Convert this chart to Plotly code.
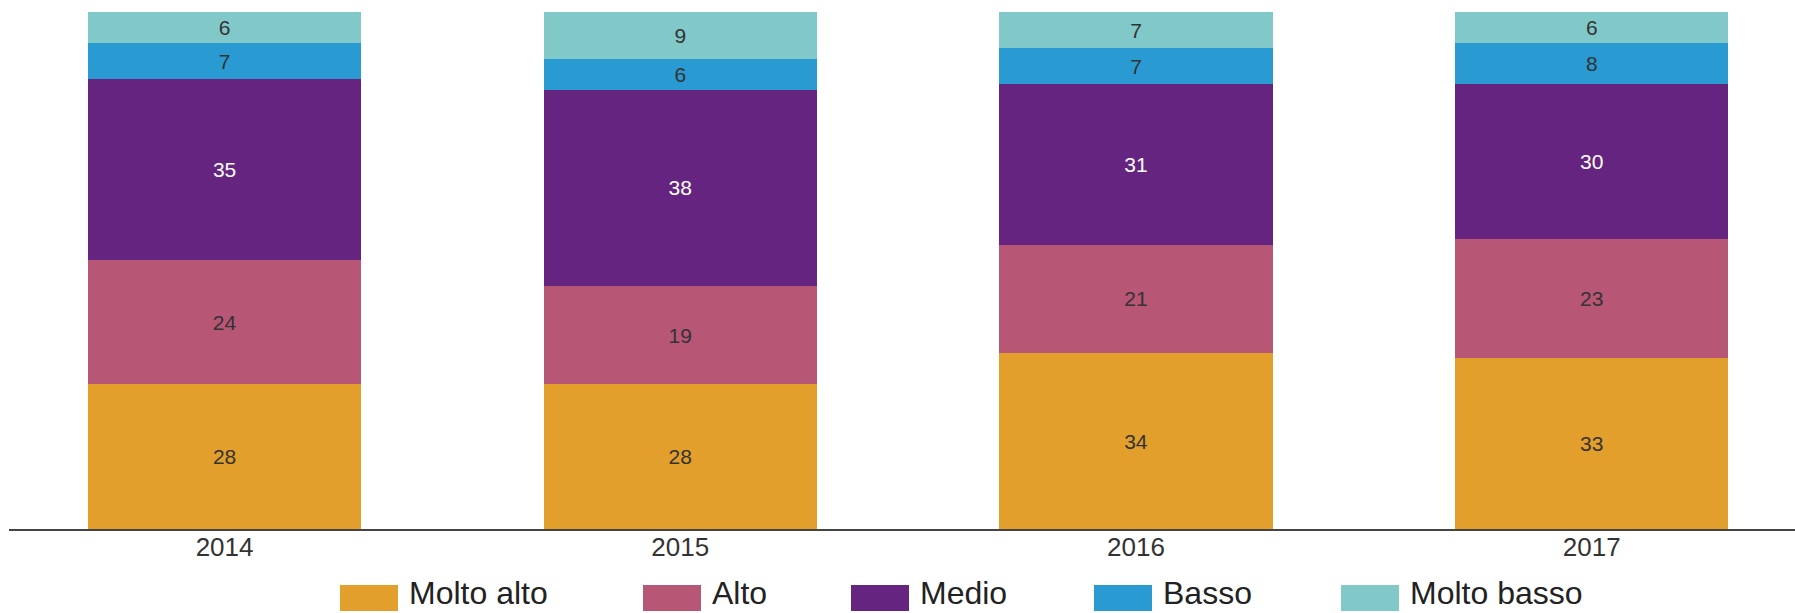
import plotly.graph_objects as go

# ---- data ----
years = ["2014", "2015", "2016", "2017"]
series = ["Molto alto", "Alto", "Medio", "Basso", "Molto basso"]
molto_alto = [28, 28, 34, 33]
alto = [24, 19, 21, 23]
medio = [35, 38, 31, 30]
basso = [7, 6, 7, 8]
molto_basso = [6, 9, 7, 6]
values = [molto_alto, alto, medio, basso, molto_basso]

colors = ["#E39F2B", "#B85676", "#65247F", "#2A9AD2", "#80C9C8"]
text_colors = ["#333333", "#333333", "#FFFFFF", "#333333", "#333333"]

W, H = 1795, 613
ML, MR, MT, MB = 9, 0, 12, 84
PW = W - ML - MR
PH = H - MT - MB

fig = go.Figure()
for name, vals, col, tcol in zip(series, values, colors, text_colors):
    fig.add_trace(go.Bar(
        x=years, y=vals, name=name,
        marker=dict(color=col, line=dict(width=0)),
        text=[str(v) for v in vals],
        textposition="inside", insidetextanchor="middle",
        textfont=dict(family="Arial, Liberation Sans, sans-serif", size=21, color=tcol),
        constraintext="none",
        hoverinfo="x+y+name",
        showlegend=False,
    ))

# ---- custom legend (large swatches) ----
def px_to_paper_x(px):
    return (px - ML) / PW

def px_to_paper_y(py):
    return (H - MB - py) / PH

legend_swatch_x = [340, 643, 851, 1094, 1341]
sw_w, sw_top, sw_bot = 58, 585, 611
shapes = []
annotations = []
for name, col, sx in zip(series, colors, legend_swatch_x):
    shapes.append(dict(
        type="rect", xref="paper", yref="paper",
        x0=px_to_paper_x(sx), x1=px_to_paper_x(sx + sw_w),
        y0=px_to_paper_y(sw_bot), y1=px_to_paper_y(sw_top),
        fillcolor=col, line=dict(width=0), layer="above",
    ))
    annotations.append(dict(
        text=name, xref="paper", yref="paper",
        x=px_to_paper_x(sx + sw_w + 10), y=px_to_paper_y(H - 0.5),
        xanchor="left", yanchor="bottom", showarrow=False, borderpad=0,
        font=dict(family="Arial, Liberation Sans, sans-serif", size=32, color="#222222"),
    ))

fig.update_layout(
    width=W, height=H,
    margin=dict(l=ML, r=MR, t=MT, b=MB, pad=0),
    barmode="stack", bargap=0.4,
    plot_bgcolor="white", paper_bgcolor="white",
    showlegend=False,
    shapes=shapes, annotations=annotations,
    xaxis=dict(
        type="category", range=[-0.473, 3.446],
        showline=True, linecolor="#444444", linewidth=2,
        showgrid=False, zeroline=False, ticks="",
        ticklabelstandoff=-6,
        tickfont=dict(family="Arial, Liberation Sans, sans-serif", size=26, color="#333333"),
    ),
    yaxis=dict(range=[0, 100], visible=False, showgrid=False, zeroline=False),
    uniformtext=dict(mode=False),
)

fig.write_html(
    "out.html",
    config={"displayModeBar": False},
    post_script="document.body.style.margin='0';document.body.style.overflow='hidden';",
)
